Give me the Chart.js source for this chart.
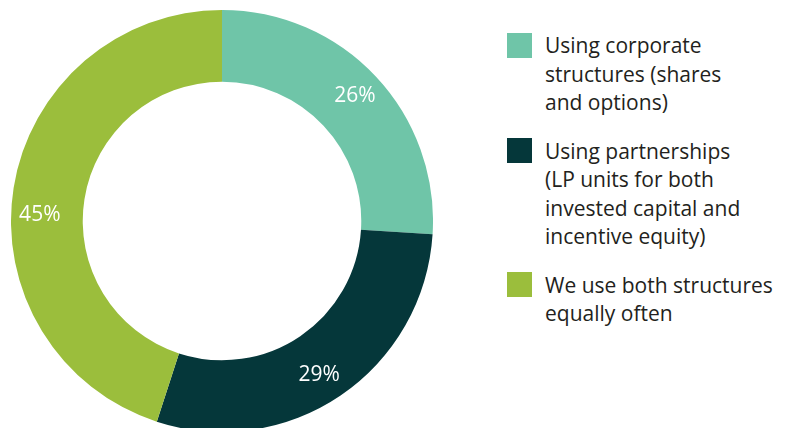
<!DOCTYPE html>
<html>
<head>
<meta charset="utf-8">
<script src="https://cdn.jsdelivr.net/npm/chart.js@4.4.0/dist/chart.umd.min.js"></script>
<style>
  html, body { margin: 0; padding: 0; background: #fff; overflow: hidden; }
  body { width: 786px; height: 428px; position: relative; font-family: "Open Sans", sans-serif; }
  #chartBox { position: absolute; left: 11px; top: 10px; width: 422px; height: 422px; }
  #legend { position: absolute; left: 507px; top: 31px; color: #231f20; font-size: 21px; line-height: 28.5px; }
  .item { display: flex; align-items: flex-start; margin-bottom: 20px; }
  .swatch { width: 25px; height: 25px; margin-top: 1.5px; margin-right: 13px; flex: none; }
</style>
</head>
<body>
<div id="chartBox"><canvas id="myChart"></canvas></div>
<div id="legend"></div>
<script>
// legend labels, one array of lines per category
const categories = [
    ['Using corporate', 'structures (shares', 'and options)'],
    ['Using partnerships', '(LP units for both', 'invested capital and', 'incentive equity)'],
    ['We use both structures', 'equally often'],
];

const shares = [26, 29, 45];

const colours = ['#6fc5a8', '#05373a', '#9bbe3c'];

// legend on the right
const legendEl = document.getElementById('legend');
categories.forEach(function (lines, i) {
    const item = document.createElement('div');
    item.className = 'item';
    const sw = document.createElement('div');
    sw.className = 'swatch';
    sw.style.background = colours[i];
    const txt = document.createElement('div');
    txt.innerHTML = lines.join('<br>');
    item.appendChild(sw);
    item.appendChild(txt);
    legendEl.appendChild(item);
});

// white percentage labels inside each slice
const sliceLabels = {
    id: 'sliceLabels',
    afterDatasetsDraw(chart, args, opts) {
        const ctx = chart.ctx;
        const meta = chart.getDatasetMeta(0);
        ctx.save();
        ctx.fillStyle = '#fff';
        ctx.font = '21px "Open Sans"';
        ctx.textAlign = 'center';
        ctx.textBaseline = 'middle';
        meta.data.forEach(function (arc, i) {
            const p = arc.getProps(['x', 'y', 'startAngle', 'endAngle', 'innerRadius', 'outerRadius']);
            const mid = (p.startAngle + p.endAngle) / 2 + (opts.nudge[i] || 0) * Math.PI / 180;
            const r = p.innerRadius + (p.outerRadius - p.innerRadius) * 0.6;
            ctx.fillText(shares[i] + '%', p.x + Math.cos(mid) * r, p.y + Math.sin(mid) * r);
        });
        ctx.restore();
    }
};

const data = {
    labels: categories,
    datasets: [{
        data: shares,
        backgroundColor: colours,
        borderWidth: 0,
    }]
};

const config = {
    type: 'doughnut',
    data: data,
    options: {
        responsive: true,
        maintainAspectRatio: false,
        animation: false,
        cutout: '66%',
        layout: { padding: 0 },
        plugins: {
            legend: { display: false },
            tooltip: { enabled: false },
            sliceLabels: { nudge: [0, 2, -7] }
        }
    },
    plugins: [sliceLabels]
};

const myChart = new Chart(
    document.getElementById('myChart'),
    config
);
</script>
</body>
</html>
